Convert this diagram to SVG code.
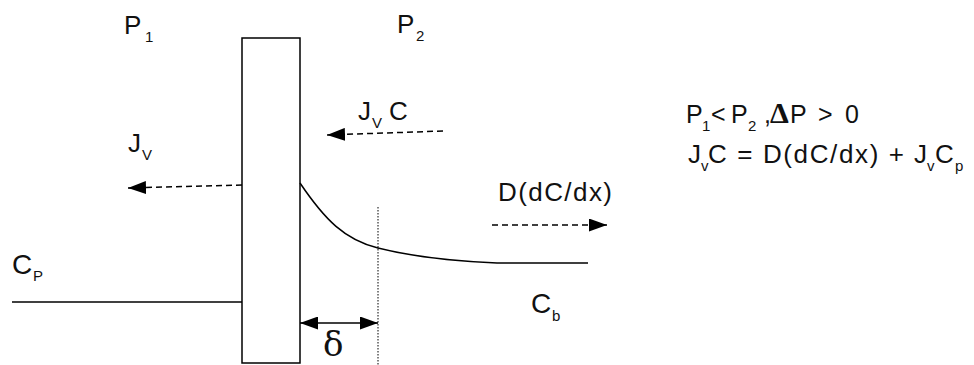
<svg xmlns="http://www.w3.org/2000/svg" width="974" height="365" viewBox="0 0 974 365">
<style>
.t{font-family:"Liberation Sans",Arial,sans-serif;font-size:26px;fill:#111}
.c{font-family:"Liberation Sans",Arial,sans-serif;font-size:28px;fill:#111}
.s{font-family:"Liberation Sans",Arial,sans-serif;font-size:15px;fill:#111}
.e{font-family:"Liberation Sans",Arial,sans-serif;font-size:25px;fill:#111}
.ln{fill:none;stroke:#000;stroke-width:1.5}
.dash{fill:none;stroke:#000;stroke-width:1.5;stroke-dasharray:6,4}
</style>
<defs>
<marker id="ah" markerUnits="userSpaceOnUse" markerWidth="18" markerHeight="13" refX="18" refY="6.5" orient="auto-start-reverse">
<path d="M0,0 L18,6.5 L0,13 z" fill="#000"/>
</marker>
</defs>
<rect width="974" height="365" fill="#fff"/>
<g id="membrane"><rect x="242" y="38" width="58" height="325" class="ln"/></g>
<g id="connectors">
<line x1="242" y1="185" x2="128" y2="188" class="dash" marker-end="url(#ah)"/>
<line x1="443" y1="131" x2="327" y2="135" class="dash" marker-end="url(#ah)"/>
<line x1="492" y1="225" x2="607" y2="225" class="dash" marker-end="url(#ah)"/>
<line x1="300" y1="323" x2="378" y2="323" class="ln" marker-start="url(#ah)" marker-end="url(#ah)"/>
<line x1="378" y1="207" x2="378" y2="365" fill="none" stroke="#000" stroke-width="1" stroke-dasharray="1.5,1.5"/>
<path d="M300,183 C325,220 345,240 378,248 C410,256 450,261 497,263 L588,263" class="ln"/>
<line x1="12" y1="302" x2="242" y2="302" class="ln"/>
</g>
<g id="p1"><text class="t" x="124" y="34">P</text><text class="s" x="145" y="42">1</text></g>
<g id="p2"><text class="t" x="397" y="33">P</text><text class="s" x="416" y="41">2</text></g>
<g id="jv"><text class="t" x="128" y="152">J</text><text class="s" x="142" y="160">V</text></g>
<g id="jvc"><text class="t" x="358" y="120">J</text><text class="s" x="372" y="128">V</text><text class="t" x="389" y="120">C</text></g>
<g id="ddx"><text class="t" x="498" y="201" textLength="114" lengthAdjust="spacing">D(dC/dx)</text></g>
<g id="cp"><text class="c" x="12" y="274">C</text><text class="s" x="33" y="281">P</text></g>
<g id="cb"><text class="c" x="531" y="313">C</text><text class="s" x="552" y="321">b</text></g>
<g id="delta"><text x="323" y="356" style="font-family:'DejaVu Serif',serif;font-size:34px;fill:#111">δ</text></g>
<g id="eq1">
<text class="e" x="686" y="123">P</text><text class="s" x="702" y="131">1</text>
<text class="e" x="711" y="123">&lt;</text>
<text class="e" x="731" y="123">P</text><text class="s" x="748" y="131">2</text>
<text class="e" x="764" y="123">,</text>
<text x="770" y="123" style="font-family:'Liberation Serif',serif;font-size:30px;font-weight:bold;fill:#111">Δ</text>
<text class="e" x="790" y="123">P</text>
<text class="e" x="818" y="123">&gt;</text>
<text class="e" x="845" y="123">0</text>
</g>
<g id="eq2">
<text class="t" x="688" y="163">J</text><text class="s" x="701" y="171">v</text>
<text class="t" x="708" y="163" textLength="196" lengthAdjust="spacing">C = D(dC/dx) +</text>
<text class="t" x="914" y="163">J</text><text class="s" x="927" y="171">v</text>
<text class="t" x="935" y="163">C</text><text class="s" x="955" y="171">p</text>
</g>
</svg>
